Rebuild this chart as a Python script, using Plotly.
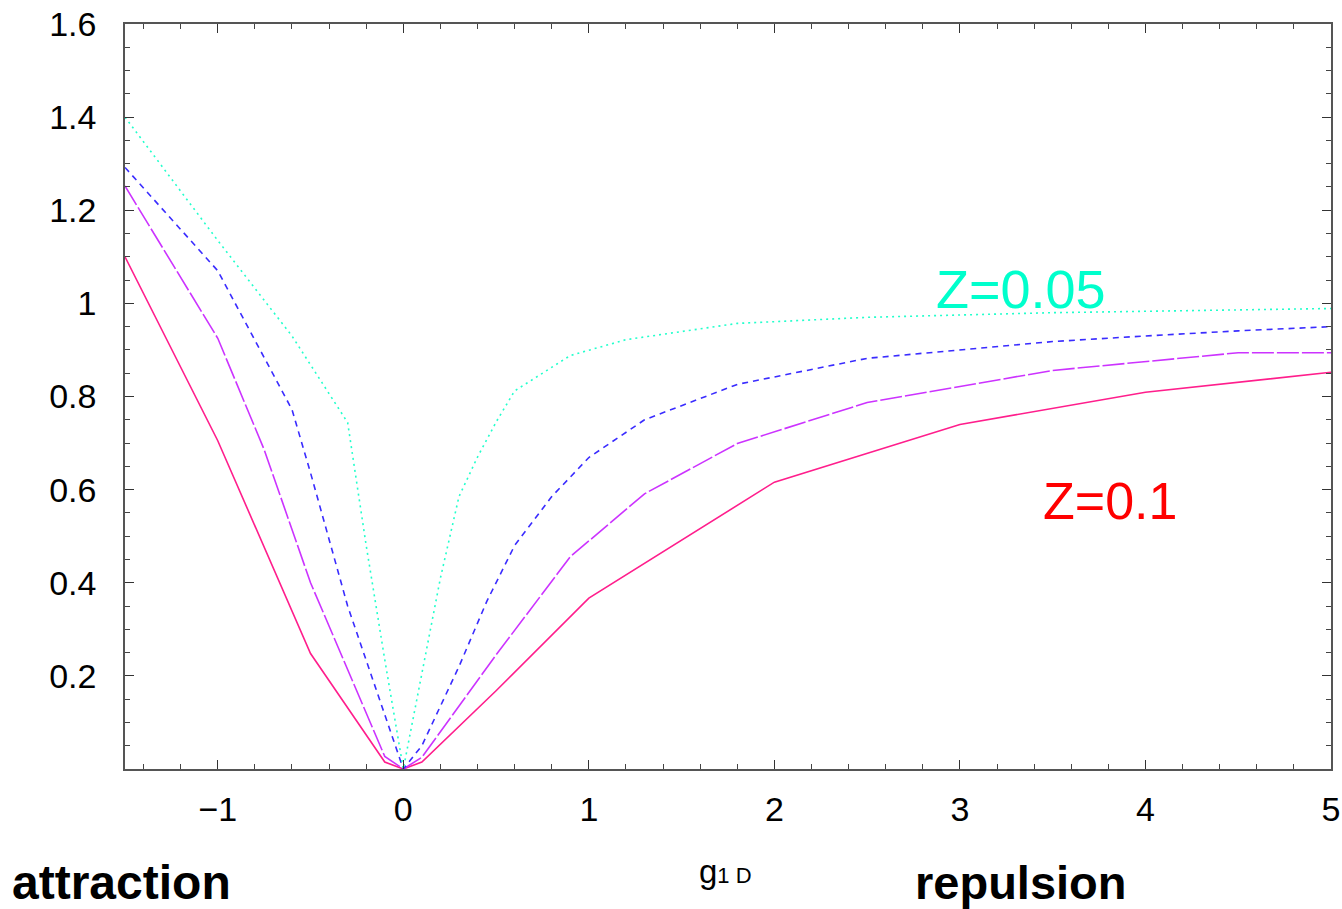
import plotly.graph_objects as go

# Coupling strength g_1D and the four curves (lowest to highest)
g_red = [-1.5, -1.0, -0.5, -0.1, 0.0, 0.1, 0.5, 1.0, 2.0, 3.0, 4.0, 5.0]
y_red = [1.10, 0.705, 0.248, 0.015, 0.0, 0.015, 0.168, 0.367, 0.616, 0.740, 0.809, 0.852]

g_mag = [-1.5, -1.0, -0.75, -0.5, -0.1, 0.0, 0.1, 0.5, 0.9, 1.3, 1.8, 2.5, 3.5, 4.5, 5.0]
y_mag = [1.252, 0.925, 0.686, 0.400, 0.027, 0.0, 0.025, 0.245, 0.456, 0.591, 0.699, 0.787, 0.856, 0.894, 0.894]

g_blue = [-1.5, -1.0, -0.6, -0.5, -0.3, -0.1, 0.0, 0.1, 0.3, 0.45, 0.6, 0.8, 1.0, 1.3, 1.8, 2.5, 3.0, 3.5, 4.0, 4.5, 5.0]
y_blue = [1.292, 1.070, 0.772, 0.636, 0.350, 0.114, 0.0, 0.05, 0.22, 0.36, 0.48, 0.585, 0.669, 0.750, 0.826, 0.882, 0.900, 0.918, 0.930, 0.941, 0.950]

g_cyan = [-1.5, -1.0, -0.6, -0.3, -0.2, -0.1, 0.0, 0.1, 0.2, 0.3, 0.4, 0.5, 0.6, 0.9, 1.2, 1.8, 2.5, 3.5, 5.0]
y_cyan = [1.40, 1.135, 0.93, 0.744, 0.48, 0.235, 0.0, 0.205, 0.41, 0.585, 0.67, 0.745, 0.812, 0.888, 0.922, 0.957, 0.970, 0.980, 0.989]

x_tick_vals = [-1, 0, 1, 2, 3, 4, 5]
x_tick_text = ["\u22121", "0", "1", "2", "3", "4", "5"]
y_tick_vals = [0.2, 0.4, 0.6, 0.8, 1.0, 1.2, 1.4, 1.6]
y_tick_text = ["0.2", "0.4", "0.6", "0.8", "1", "1.2", "1.4", "1.6"]

FONT = "Liberation Sans, Arial, Helvetica, sans-serif"

fig = go.Figure()
fig.add_trace(go.Scatter(x=g_red, y=y_red, mode="lines",
                         line=dict(color="#ff1e8c", width=1.6, dash="solid")))
fig.add_trace(go.Scatter(x=g_mag, y=y_mag, mode="lines",
                         line=dict(color="#cc33ff", width=1.6, dash="22px,3px")))
fig.add_trace(go.Scatter(x=g_blue, y=y_blue, mode="lines",
                         line=dict(color="#3a2cff", width=1.6, dash="6px,5px")))
fig.add_trace(go.Scatter(x=g_cyan, y=y_cyan, mode="lines",
                         line=dict(color="#22ffcc", width=1.6, dash="2px,4px")))

axis_common = dict(
    showgrid=False, zeroline=False,
    showline=True, linecolor="#555555", linewidth=1.5, mirror="allticks",
    ticks="inside", ticklen=9, tickwidth=1.3, tickcolor="#333333",
    tickfont=dict(family=FONT, size=34, color="black"),
)

fig.update_xaxes(
    range=[-1.5, 5.0], tickmode="array", tickvals=x_tick_vals, ticktext=x_tick_text,
    ticklabelstandoff=9,
    minor=dict(ticks="inside", ticklen=5, tickwidth=1.1, tickcolor="#444444",
               tickmode="linear", tick0=0, dtick=0.2),
    **axis_common,
)
fig.update_yaxes(
    range=[0.0, 1.6], tickmode="array", tickvals=y_tick_vals, ticktext=y_tick_text,
    ticklabelstandoff=20,
    minor=dict(ticks="inside", ticklen=5, tickwidth=1.1, tickcolor="#444444",
               tickmode="linear", tick0=0, dtick=0.05),
    **axis_common,
)

annotations = [
    dict(x=3.33, y=1.03, xref="x", yref="y", text="Z=0.05", showarrow=False,
         font=dict(family=FONT, size=54, color="#00ffcc")),
    dict(x=3.81, y=0.575, xref="x", yref="y", text="Z=0.1", showarrow=False,
         font=dict(family=FONT, size=52, color="#ff0000")),
    dict(x=-0.0954, y=-0.153, xref="paper", yref="paper", text="<b>attraction</b>",
         showarrow=False, xanchor="left", yanchor="middle",
         font=dict(family=FONT, size=48, color="black")),
    dict(x=0.6534, y=-0.153, xref="paper", yref="paper", text="<b>repulsion</b>",
         showarrow=False, xanchor="left", yanchor="middle",
         font=dict(family=FONT, size=47, color="black")),
    dict(x=0.474, y=-0.137, xref="paper", yref="paper",
         text="g<span style='font-size:22px'>1 D</span>",
         showarrow=False, xanchor="left", yanchor="middle",
         font=dict(family=FONT, size=33, color="black")),
]

fig.update_layout(
    width=1342, height=909,
    margin=dict(l=125, r=11, t=24, b=140, autoexpand=False),
    paper_bgcolor="white", plot_bgcolor="white",
    showlegend=False,
    annotations=annotations,
)

fig.write_html("out.html")
